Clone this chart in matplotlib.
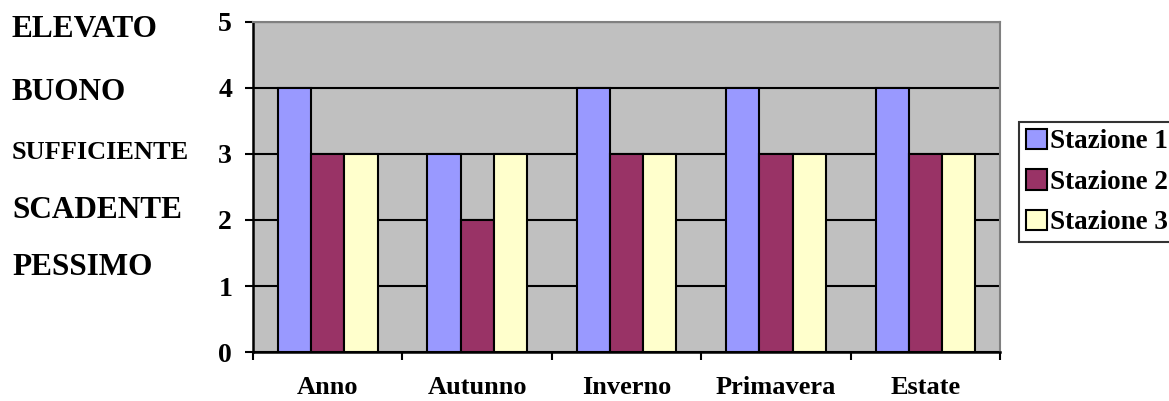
import matplotlib
matplotlib.use('Agg')
import matplotlib.pyplot as plt
import numpy as np

plt.rcParams['font.family'] = 'Liberation Serif'
plt.rcParams['font.weight'] = 'bold'

categories = ['Anno', 'Autunno', 'Inverno', 'Primavera', 'Estate']
stazione_1 = [4, 3, 4, 4, 4]
stazione_2 = [3, 2, 3, 3, 3]
stazione_3 = [3, 3, 3, 3, 3]
series = [('Stazione 1', stazione_1, '#9999FF'),
          ('Stazione 2', stazione_2, '#993366'),
          ('Stazione 3', stazione_3, '#FFFFCC')]
levels = ['ELEVATO', 'BUONO', 'SUFFICIENTE', 'SCADENTE', 'PESSIMO']

fig = plt.figure(figsize=(11.69, 4.01), dpi=100)
ax = fig.add_axes([253/1169, 1-352/401, 747/1169, 330/401])
ax.set_facecolor('#C0C0C0')

x = np.arange(len(categories))
w = 1/4.5
for i, (name, vals, col) in enumerate(series):
    ax.bar(x + (i-1)*w, vals, w, color=col, edgecolor='black', linewidth=1.5,
           label=name, zorder=3)

ax.set_xlim(-0.5, len(categories)-0.5)
ax.set_ylim(0, 5)
ax.set_yticks(range(6))
ax.yaxis.grid(True, color='black', linewidth=1.5, zorder=1)
ax.set_axisbelow(True)

ax.set_xticks(x)
ax.set_xticklabels(categories, fontsize=19, fontweight='bold')
ax.tick_params(axis='x', which='major', length=0, pad=17)
ax.set_xticks(np.arange(len(categories)+1) - 0.5, minor=True)
ax.tick_params(axis='x', which='minor', length=6, width=1.5, direction='out')
ax.tick_params(axis='y', length=6, width=1.5, direction='out', pad=9, labelsize=20)

for side in ['top', 'right']:
    ax.spines[side].set_color('#808080')
    ax.spines[side].set_linewidth(1.5)
for side in ['left', 'bottom']:
    ax.spines[side].set_color('black')
    ax.spines[side].set_linewidth(1.8)

# quality levels written down the left margin
baselines = [37, 100, 159, 218, 275]
sizes = [22.5, 22.5, 19, 22.5, 22.5]
for lab, yb, fs in zip(levels, baselines, sizes):
    fig.text(12/1169, 1-yb/401, lab, fontsize=fs, fontweight='bold', va='baseline', ha='left')

leg = fig.legend(loc='upper left', bbox_to_anchor=(1019/1169, 1-122/401),
                 fontsize=19.5, frameon=True, fancybox=False, borderpad=0.25,
                 handlelength=0.78, handleheight=0.78, handletextpad=0.12,
                 labelspacing=0.55, borderaxespad=0)
leg.get_frame().set_edgecolor('black')
leg.get_frame().set_linewidth(1.5)

plt.savefig('out.png', dpi=100)
